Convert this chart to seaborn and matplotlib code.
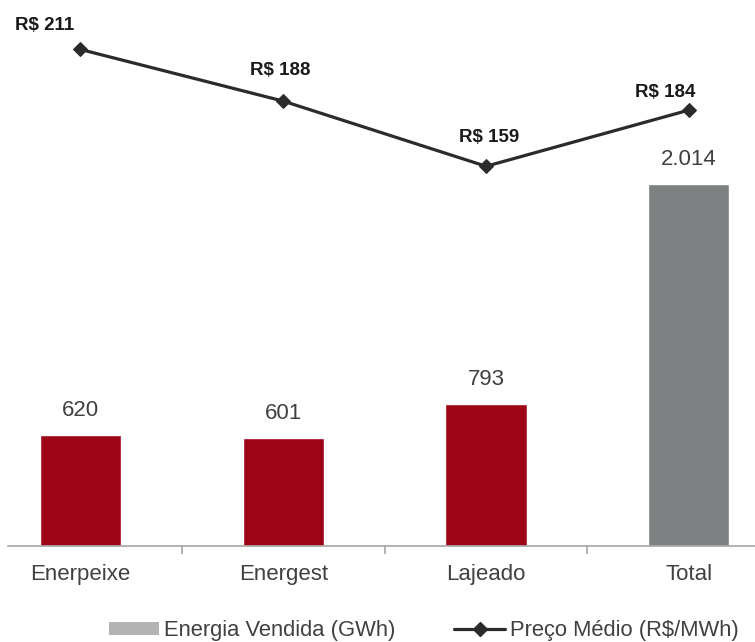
import matplotlib
matplotlib.use('Agg')
import matplotlib.pyplot as plt
import seaborn as sns
import pandas as pd
from matplotlib.patches import Patch
from matplotlib.lines import Line2D

# Data
categories = ['Enerpeixe', 'Energest', 'Lajeado', 'Total']
energia_gwh = [620, 601, 793, 2014]
preco_medio = [211, 188, 159, 184]

bar_colors = ['#9D0516', '#9D0516', '#9D0516', '#7E8182']
text_gray = '#404040'
line_color = '#2B2B2B'

sns.set_style('white')
plt.rcParams['font.family'] = ['Liberation Sans', 'DejaVu Sans']

df = pd.DataFrame({'categoria': categories, 'energia': energia_gwh, 'preco': preco_medio})

fig = plt.figure(figsize=(7.55, 6.42), dpi=100)
ax = fig.add_axes([8 / 755, 1 - 546 / 642, 1 - 8 / 755, 546 / 642])

# Bars
sns.barplot(data=df, x='categoria', y='energia', hue='categoria', palette=bar_colors,
            width=0.4, legend=False, saturation=1, ax=ax)
for i, v in enumerate(energia_gwh):
    ax.annotate(f'{v:,}'.replace(',', '.'), (i, v), xytext=(0, 17.5), textcoords='offset points',
                ha='center', va='center', fontsize=16, color=text_gray)
ax.set_ylim(0, 3040)
ax.set_xlim(-0.357, 3.326)
ax.set_xlabel('')
ax.set_ylabel('')
ax.set_yticks([])
for s in ['top', 'left', 'right']:
    ax.spines[s].set_visible(False)
ax.spines['bottom'].set_color('#A6A6A6')
ax.spines['bottom'].set_linewidth(1.2)
ax.tick_params(axis='x', which='major', bottom=True, length=0, pad=13, labelsize=16, labelcolor=text_gray)
ax.set_xticks([0.5, 1.5, 2.5], minor=True)
ax.tick_params(axis='x', which='minor', bottom=True, length=6, width=1.2, color='#A6A6A6', direction='out')

# Line on secondary axis
ax2 = ax.twinx()
sns.lineplot(x=list(range(len(categories))), y=preco_medio, ax=ax2, color=line_color,
             linewidth=2.3, marker='D', markersize=6.8, markeredgecolor=line_color, sort=False)
offsets = [(-26, 17), (-2, 22), (2, 21), (-17, 13)]
for i, (v, off) in enumerate(zip(preco_medio, offsets)):
    ax2.annotate(f'R$ {v}', (i, v), xytext=off, textcoords='offset points',
                 ha='center', va='center', fontsize=13.5, fontweight='bold', color='#1A1A1A')
ax2.set_ylim(-10, 233)
ax2.set_yticks([])
ax2.set_ylabel('')
for s in ['top', 'left', 'right', 'bottom']:
    ax2.spines[s].set_visible(False)
ax2.set_xlim(-0.357, 3.326)

# Legend
handles = [Patch(facecolor='#B3B3B3', edgecolor='none'),
           Line2D([0], [0], color=line_color, linewidth=2.3, marker='D', markersize=6.8)]
labels = ['Energia Vendida (GWh)', 'Preço Médio (R$/MWh)']
fig.legend(handles, labels, loc='center', bbox_to_anchor=(0.561, 0.018), ncol=2, frameon=False,
           fontsize=15.8, labelcolor=text_gray, handlelength=2.3, handleheight=0.55,
           handletextpad=0.22, columnspacing=2.7, borderpad=0)

fig.savefig('out.png', dpi=100)
